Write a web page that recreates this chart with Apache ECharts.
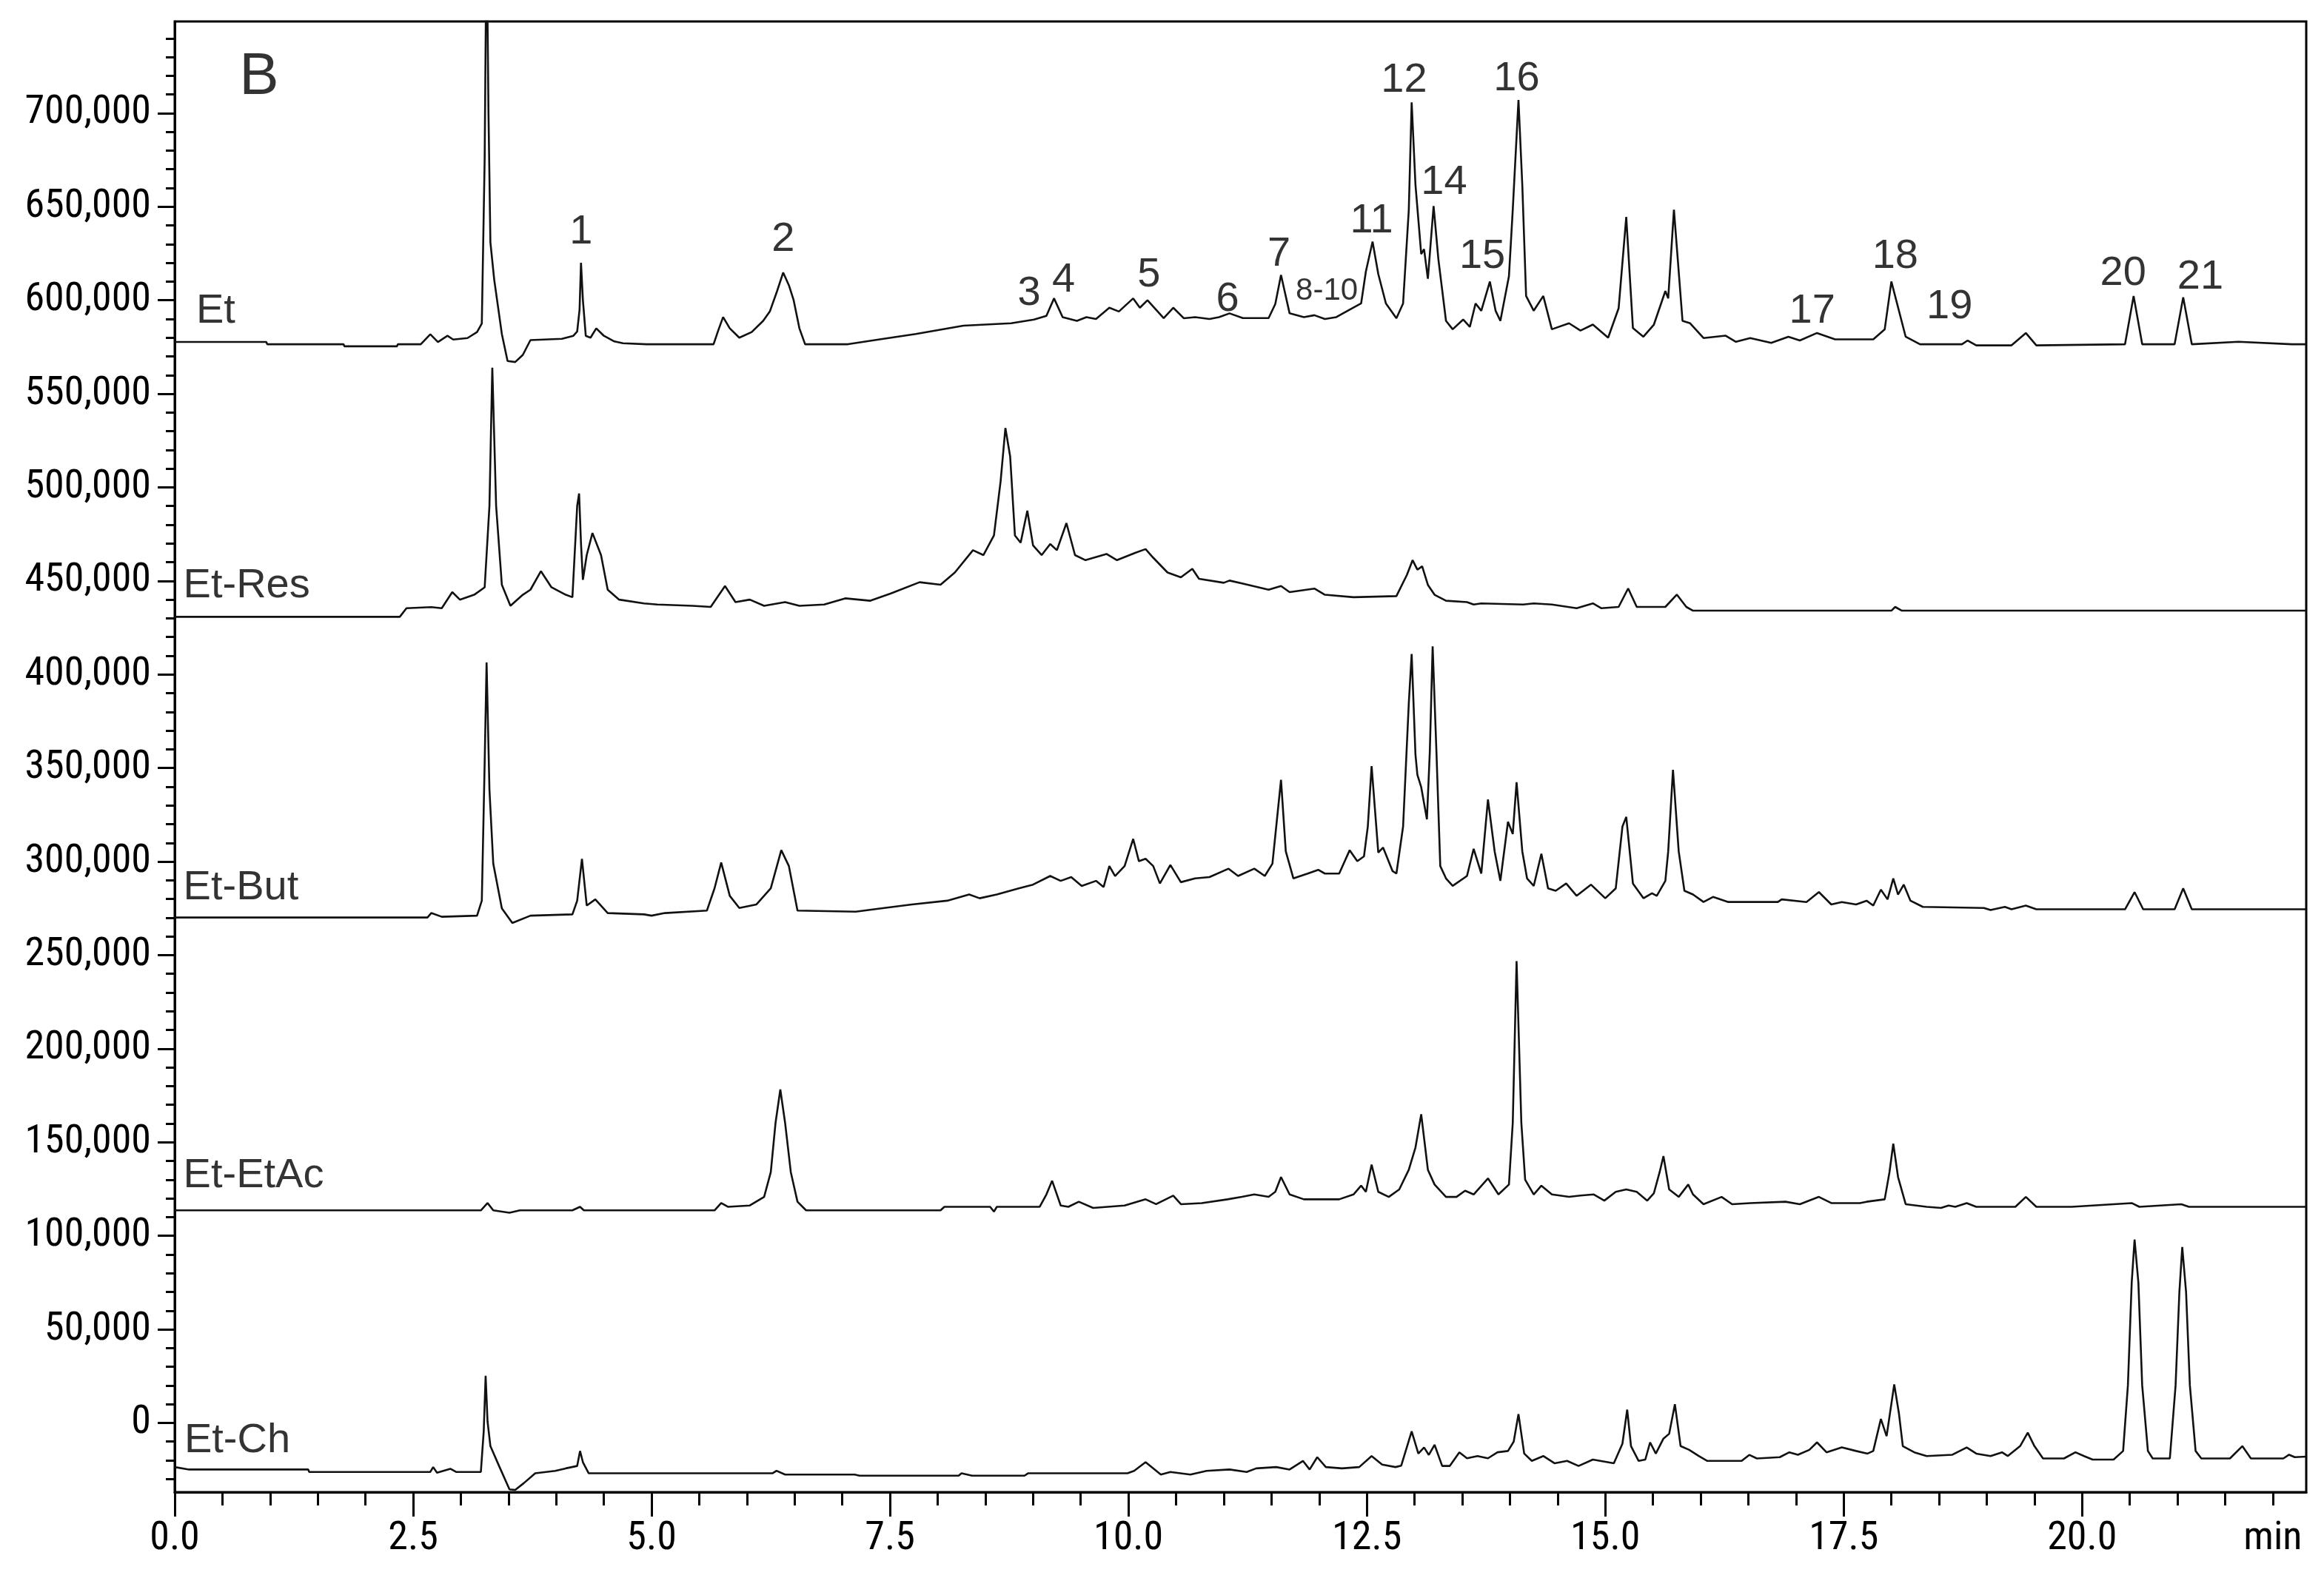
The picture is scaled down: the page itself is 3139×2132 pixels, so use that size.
<!DOCTYPE html>
<html>
<head>
<meta charset="utf-8">
<script src="https://cdn.jsdelivr.net/npm/echarts@6/dist/echarts.min.js"></script>
<style>
html,body{margin:0;padding:0;background:#fff;}
#chart{width:3139px;height:2132px;}
</style>
</head>
<body>
<div id="chart"></div>
<script>
// values in thousands of counts; time in minutes
const UNIT = 1000;
const traceEt = [[0,577.7],[0.96,577.7],[0.97,576.5],[1.77,576.5],[1.78,575.4],[2.33,575.4],[2.34,576.5],[2.58,576.5],[2.68,581.8],[2.76,577.7],[2.86,581],[2.92,579],[3.07,579.8],[3.17,583],[3.22,587.6],[3.25,676],[3.27,800],[3.29,700],[3.31,631],[3.35,611],[3.43,582],[3.49,567.5],[3.57,567],[3.65,570.8],[3.73,578.7],[4.06,579.4],[4.18,581],[4.22,583.3],[4.245,595],[4.26,620],[4.28,600],[4.31,581],[4.36,580],[4.42,585],[4.5,581],[4.61,578],[4.7,577],[4.95,576.5],[5.65,576.5],[5.7,584],[5.75,591],[5.82,585],[5.92,580],[6.05,583],[6.17,589],[6.24,594],[6.31,604],[6.38,614.8],[6.44,608],[6.49,600],[6.55,585],[6.61,576.5],[7.06,576.5],[7.38,579],[7.77,582],[8.27,586.4],[8.77,587.7],[9.01,589.7],[9.14,591.7],[9.22,601],[9.31,591],[9.46,589],[9.56,591],[9.66,590],[9.8,596],[9.9,594],[10.05,601],[10.12,596],[10.2,600],[10.37,590.4],[10.47,596],[10.58,590.4],[10.7,591],[10.85,590],[10.95,591],[11.06,593],[11.2,590.5],[11.47,590.5],[11.54,598],[11.6,613.5],[11.69,593],[11.84,591],[11.95,592],[12.06,590],[12.18,591],[12.32,595],[12.44,598.3],[12.49,615.4],[12.56,631.3],[12.62,614],[12.7,598.3],[12.81,590.4],[12.88,598.3],[12.94,648.4],[12.97,705.8],[13.01,661.6],[13.07,624.7],[13.1,627.3],[13.14,611.5],[13.2,650.4],[13.25,622],[13.33,589],[13.4,584.5],[13.51,589.7],[13.58,585.8],[13.64,598.3],[13.7,594.4],[13.79,610],[13.85,594.4],[13.9,589],[13.99,612.8],[14.03,648.4],[14.09,707],[14.13,661.6],[14.17,602.3],[14.25,594.4],[14.35,602.3],[14.44,584.5],[14.62,587.7],[14.74,583.8],[14.87,587],[15.03,580],[15.14,595.7],[15.22,644.5],[15.29,585.1],[15.4,580.5],[15.51,587],[15.63,604.9],[15.66,601],[15.72,648.4],[15.81,589],[15.89,587.7],[16.03,579.8],[16.26,581.1],[16.37,577.8],[16.52,579.8],[16.74,577.2],[16.92,580.5],[17.04,578.5],[17.22,582.5],[17.41,579.1],[17.81,579.1],[17.93,584.4],[18.0,610],[18.15,580.5],[18.3,576.5],[18.74,576.5],[18.8,578.5],[18.89,575.9],[19.26,575.9],[19.41,582.5],[19.52,575.9],[20.45,576.5],[20.54,602.3],[20.63,576.5],[20.97,576.5],[21.06,601.6],[21.15,576.5],[21.64,577.8],[22.2,576.5],[22.35,576.5]];

const traceEtRes = [[0,430.8],[2.36,430.8],[2.43,435.4],[2.69,436],[2.8,435.4],[2.91,444],[2.99,440],[3.14,442.6],[3.25,446.6],[3.3,490.1],[3.33,564],[3.37,490.1],[3.43,448],[3.52,436.7],[3.65,442.6],[3.73,445.3],[3.84,455.2],[3.95,446.6],[4.1,442.6],[4.17,441.3],[4.22,490.1],[4.24,496.7],[4.26,470],[4.28,450.6],[4.32,463.8],[4.38,475.6],[4.47,463.8],[4.54,445.3],[4.66,440],[4.92,438],[5.06,437.4],[5.43,436.7],[5.62,436.1],[5.77,447.3],[5.88,438.7],[6.03,440],[6.18,436.7],[6.4,438.7],[6.55,436.7],[6.81,437.4],[7.03,440.7],[7.29,439.4],[7.51,443.3],[7.81,449.3],[8.03,448],[8.18,454.5],[8.37,466.4],[8.48,463.8],[8.59,474.3],[8.66,503.3],[8.71,531.7],[8.76,516.5],[8.81,474.3],[8.87,470.4],[8.94,487.5],[9.0,469],[9.09,463.8],[9.18,469.7],[9.25,466.4],[9.35,480.9],[9.44,463.8],[9.55,461.1],[9.77,464.4],[9.88,461.1],[10.07,465],[10.18,467],[10.26,462.4],[10.41,454.5],[10.55,451.9],[10.67,456.5],[10.74,451.1],[11.0,449],[11.06,450.2],[11.2,448.6],[11.47,445.3],[11.6,447.3],[11.69,444],[11.95,445.9],[12.06,442.6],[12.36,441.3],[12.81,441.9],[12.92,453.2],[12.98,461.1],[13.03,456],[13.08,457.8],[13.14,447.9],[13.21,442.6],[13.33,439.4],[13.55,438.7],[13.62,437.4],[13.7,438],[14.14,437.4],[14.25,438],[14.44,437.4],[14.7,435.4],[14.87,438],[14.96,435.4],[15.14,436.1],[15.24,446],[15.33,436.1],[15.63,436.1],[15.75,442.7],[15.85,436.1],[15.92,434.1],[18.0,434.1],[18.04,436.1],[18.11,434.1],[22.35,434.1]];

const traceEtBut = [[0,270.1],[2.65,270.1],[2.69,272.5],[2.8,270.5],[3.17,271.1],[3.22,279.1],[3.25,353],[3.27,406.4],[3.3,338.5],[3.34,298.9],[3.43,275],[3.54,267.2],[3.73,271.1],[4.17,271.8],[4.22,279.1],[4.27,301.5],[4.32,276.5],[4.41,279.8],[4.54,272.5],[4.92,271.8],[5.0,271.1],[5.14,272.5],[5.58,273.8],[5.66,285.7],[5.73,299.5],[5.82,281.7],[5.92,275.2],[6.1,277.1],[6.25,285.7],[6.36,306.1],[6.44,297.6],[6.53,273.8],[7.14,273.2],[7.44,275.2],[7.73,277.1],[8.1,279.1],[8.33,282.4],[8.44,280.4],[8.62,282.4],[8.85,285.7],[9.0,287.7],[9.18,292.3],[9.29,289.7],[9.4,291.7],[9.51,287],[9.66,289.7],[9.74,286.4],[9.8,297.6],[9.86,292.3],[9.96,297.6],[10.05,312.1],[10.11,300.2],[10.18,301.5],[10.26,297.6],[10.33,288.3],[10.44,298.2],[10.55,289],[10.7,291],[10.85,291.7],[11.05,296.2],[11.15,292.3],[11.32,296.2],[11.43,292.3],[11.51,298.9],[11.6,343.7],[11.65,305.5],[11.73,291],[11.88,293.6],[11.99,295.6],[12.06,293.6],[12.21,293.6],[12.32,306.1],[12.4,300.2],[12.47,302.8],[12.51,318.7],[12.55,351],[12.62,304.8],[12.67,307.5],[12.77,294.9],[12.81,293.6],[12.88,318.7],[12.94,384.7],[12.97,411],[13.01,357],[13.03,346.4],[13.07,339.8],[13.13,322.6],[13.16,358.3],[13.19,415],[13.23,358.3],[13.27,297.6],[13.33,291],[13.4,287],[13.55,292.3],[13.62,306.8],[13.7,293.6],[13.77,333.2],[13.84,305.5],[13.9,289.7],[13.98,321.3],[14.03,314.7],[14.07,342.4],[14.13,305.5],[14.18,291],[14.25,287],[14.33,304.2],[14.4,285.7],[14.48,284.4],[14.59,288.3],[14.7,281.7],[14.85,287.7],[15.0,280.4],[15.11,285.7],[15.18,318.7],[15.22,323.9],[15.29,288.3],[15.4,280.4],[15.49,283.1],[15.54,281.7],[15.63,289.7],[15.66,305.5],[15.71,349],[15.77,305.5],[15.83,284.4],[15.92,282.4],[16.03,278.4],[16.13,281.1],[16.29,278.4],[16.81,278.4],[16.85,279.8],[17.11,278.4],[17.24,283.7],[17.37,277.1],[17.48,278.4],[17.63,277.1],[17.74,279.1],[17.81,276.5],[17.89,285],[17.96,279.8],[18.02,291],[18.07,282.4],[18.13,287.7],[18.2,279.1],[18.33,275.8],[18.97,275.2],[19.04,274.1],[19.19,275.8],[19.26,274.5],[19.41,276.5],[19.52,274.5],[20.45,274.5],[20.55,283.7],[20.64,274.5],[20.97,274.5],[21.06,285.7],[21.15,274.5],[22.35,274.5]];

const traceEtEtAc = [[0,113.6],[3.21,113.6],[3.28,117.5],[3.34,113.6],[3.51,112.3],[3.62,113.6],[4.17,113.6],[4.25,115.5],[4.29,113.6],[5.66,113.6],[5.73,117.5],[5.8,115.5],[6.03,116.2],[6.18,120.8],[6.25,134],[6.3,160.4],[6.35,178.2],[6.4,160.4],[6.46,134],[6.53,118.2],[6.62,113.6],[8.03,113.6],[8.07,115.5],[8.55,115.5],[8.59,112.9],[8.62,115.5],[9.07,115.5],[9.14,122.1],[9.2,129.4],[9.29,116.2],[9.37,115.5],[9.48,118.2],[9.63,114.9],[9.96,116.2],[10.18,119.5],[10.29,116.9],[10.47,121.5],[10.55,116.9],[10.77,117.5],[11.04,119.5],[11.19,120.8],[11.32,122.1],[11.47,120.8],[11.54,123.5],[11.6,131.4],[11.69,122.1],[11.84,119.5],[12.21,119.5],[12.36,122.1],[12.44,126.8],[12.49,123.5],[12.55,138],[12.62,123.5],[12.73,120.8],[12.84,124.8],[12.94,135.3],[13.01,147.2],[13.07,165],[13.14,135.3],[13.21,127.4],[13.33,120.8],[13.44,120.8],[13.53,124.1],[13.62,122.1],[13.77,130.7],[13.88,122.1],[13.99,127.4],[14.03,160.4],[14.07,246.8],[14.12,160.4],[14.16,130],[14.25,122.1],[14.33,126.8],[14.44,122.1],[14.62,120.8],[14.74,121.5],[14.88,122.1],[14.99,118.8],[15.11,123.5],[15.22,124.8],[15.33,123.5],[15.44,118.8],[15.51,122.8],[15.57,134],[15.61,142.6],[15.67,124.8],[15.77,120.8],[15.87,127.4],[15.92,122.1],[16.03,116.9],[16.22,120.8],[16.33,116.9],[16.52,117.5],[16.89,118.2],[17.04,116.9],[17.24,120.8],[17.37,117.5],[17.67,117.5],[17.74,118.2],[17.93,119.5],[17.98,134],[18.02,149.2],[18.07,131.4],[18.15,116.9],[18.37,115.5],[18.52,114.9],[18.6,116.2],[18.67,115.5],[18.79,117.5],[18.89,115.5],[19.3,115.5],[19.41,120.8],[19.52,115.5],[19.89,115.5],[20.52,117.5],[20.6,115.5],[21.04,116.9],[21.12,115.5],[22.35,115.5]];

const traceEtCh = [[0,-23.6],[0.15,-24.9],[1.4,-24.9],[1.41,-26.2],[2.68,-26.2],[2.71,-23.6],[2.75,-26.6],[2.89,-24.5],[2.95,-26.2],[3.21,-26.2],[3.24,-4.5],[3.26,25.2],[3.28,0.8],[3.31,-12.4],[3.4,-22.9],[3.51,-35.5],[3.57,-35.8],[3.66,-32.2],[3.78,-26.9],[3.99,-25.6],[4.1,-24.3],[4.22,-23],[4.25,-15],[4.28,-21],[4.34,-26.9],[6.27,-26.9],[6.31,-25.6],[6.4,-27.6],[7.13,-27.6],[7.18,-28.2],[8.22,-28.2],[8.25,-26.9],[8.36,-28.2],[8.91,-28.2],[8.95,-26.9],[9.99,-26.9],[10.06,-25.6],[10.18,-21],[10.34,-27.6],[10.44,-26.2],[10.65,-27.6],[10.82,-25.6],[11.06,-24.9],[11.24,-26.2],[11.34,-24.3],[11.55,-23.6],[11.69,-24.9],[11.83,-20.3],[11.9,-24.9],[11.98,-18.3],[12.07,-23.6],[12.24,-24.3],[12.42,-23.6],[12.55,-17.7],[12.66,-22.3],[12.8,-23.6],[12.86,-22.9],[12.97,-4.5],[13.04,-16.4],[13.1,-13.1],[13.15,-17.1],[13.21,-11.7],[13.29,-23],[13.37,-23],[13.47,-15.7],[13.55,-18.9],[13.66,-17.7],[13.77,-18.9],[13.87,-15.7],[13.98,-15],[14.04,-10],[14.09,4.7],[14.15,-16.4],[14.23,-20.3],[14.35,-17.7],[14.47,-21.6],[14.6,-20.3],[14.72,-23],[14.87,-19.6],[15.09,-21.6],[15.18,-11.1],[15.23,7.1],[15.27,-12.4],[15.35,-20.3],[15.42,-19.6],[15.47,-10.4],[15.53,-16.4],[15.61,-8.4],[15.67,-5.8],[15.73,10],[15.79,-12.4],[15.88,-14.4],[15.98,-17.7],[16.07,-20.3],[16.43,-20.3],[16.51,-17.1],[16.59,-19],[16.83,-18.3],[16.93,-15.7],[17.02,-17],[17.14,-14.4],[17.22,-10.4],[17.32,-15.7],[17.48,-13.1],[17.63,-15],[17.75,-16.4],[17.81,-15],[17.89,2.1],[17.95,-7.1],[18.03,20.6],[18.08,4.8],[18.12,-12.4],[18.24,-15.7],[18.37,-17.7],[18.64,-17],[18.79,-13.1],[18.89,-16.4],[19.04,-17.7],[19.16,-15.7],[19.22,-17.7],[19.35,-12.4],[19.43,-5.2],[19.5,-12.4],[19.59,-19],[19.81,-19],[19.93,-15.7],[20.02,-17.7],[20.11,-19.6],[20.33,-19.6],[20.43,-15],[20.48,20],[20.52,75],[20.55,98],[20.59,75],[20.63,20],[20.69,-15],[20.74,-19],[20.92,-19],[20.98,20],[21.02,70],[21.05,94],[21.09,70],[21.13,20],[21.19,-15],[21.25,-19],[21.55,-19],[21.68,-12.4],[21.77,-19],[22.11,-19],[22.17,-17],[22.23,-18.3],[22.35,-18]];

// peak number annotations: [time, value(k), text]
const peakLabels = [[4.26,636.6,'1'],[6.38,632.6,'2'],[8.96,603.6,'3'],[9.32,610.8,'4'],[10.215,613.5,'5'],[11.04,600.3,'6'],[11.58,624.7,'7'],[12.55,642.5,'11'],[12.89,717.7,'12'],[13.31,662.9,'14'],[13.71,623.4,'15'],[14.07,718.3,'16'],[17.17,594.3,'17'],[18.04,623.4,'18'],[18.61,596.3,'19'],[20.43,614.1,'20'],[21.24,612.2,'21']];
const smallPeakLabels = [[12.08,604.9,'8-10']];
// trace name annotations: [time, value(k), text]
const traceNames = [[0.225,594,'Et'],[0.09,447.3,'Et-Res'],[0.09,286,'Et-But'],[0.09,132,'Et-EtAc'],[0.1,-9.4,'Et-Ch']];
const panelLetter = [[0.885,719,'B']];

const xMajorTicks = [0,2.5,5,7.5,10,12.5,15,17.5,20];
const xMinorTicks = [0,0.5,1,1.5,2,2.5,3,3.5,4,4.5,5,5.5,6,6.5,7,7.5,8,8.5,9,9.5,10,10.5,11,11.5,12,12.5,13,13.5,14,14.5,15,15.5,16,16.5,17,17.5,18,18.5,19,19.5,20,20.5,21,21.5,22];
const xLabelValues = [0,2.5,5,7.5,10,12.5,15,17.5,20,22];
const yMajorTicks = [0,50000,100000,150000,200000,250000,300000,350000,400000,450000,500000,550000,600000,650000,700000];
const yMinorTicks = [-30000,-20000,-10000,0,10000,20000,30000,40000,50000,60000,70000,80000,90000,100000,110000,120000,130000,140000,150000,160000,170000,180000,190000,200000,210000,220000,230000,240000,250000,260000,270000,280000,290000,300000,310000,320000,330000,340000,350000,360000,370000,380000,390000,400000,410000,420000,430000,440000,450000,460000,470000,480000,490000,500000,510000,520000,530000,540000,550000,560000,570000,580000,590000,600000,610000,620000,630000,640000,650000,660000,670000,680000,690000,700000,710000,720000,730000,740000];

const X_MIN = 0, X_MAX = 22.35, Y_MIN = -37000, Y_MAX = 749000;

const toSeries = arr => arr.map(p => [p[0], p[1] * UNIT]);
const toText = arr => arr.map(p => ({ value: [p[0], p[1] * UNIT], name: p[2] }));

const tickFont = '"Liberation Sans Narrow", "Arial Narrow", "Roboto Condensed", "Liberation Sans", sans-serif';
const textFont = '"Liberation Sans", Arial, sans-serif';

const lineSeries = (name, arr) => ({
  name, type: 'line', data: toSeries(arr), showSymbol: false, symbol: 'none',
  lineStyle: { color: '#111', width: 2.6 }, clip: true, z: 3, silent: true
});
const textSeries = (data, fontSize, pos) => ({
  type: 'scatter', data: toText(data), symbolSize: 0, silent: true, z: 5, clip: false,
  label: { show: true, position: pos, distance: 0, formatter: p => p.name, color: '#000', fontFamily: textFont, fontSize: fontSize,
    align: pos === 'right' ? 'left' : 'center', verticalAlign: 'middle' }
});

const chart = echarts.init(document.getElementById('chart'), null, { renderer: 'canvas' });
chart.setOption({
  animation: false,
  backgroundColor: '#fff',
  grid: { left: 236, right: 24, top: 29, bottom: 116, show: true, borderColor: '#000', borderWidth: 3, containLabel: false },
  xAxis: [
    { type: 'value', min: X_MIN, max: X_MAX, position: 'bottom',
      axisLine: { show: true, onZero: false, lineStyle: { color: '#000', width: 3 } },
      axisTick: { show: true, inside: false, length: 33, customValues: xMajorTicks, lineStyle: { color: '#000', width: 3 } },
      axisLabel: { show: true, customValues: xLabelValues, margin: 36, color: '#000', fontFamily: tickFont, fontSize: 54,
        formatter: v => (v === 22 ? 'min' : v.toFixed(1)) },
      splitLine: { show: false } },
    { type: 'value', min: X_MIN, max: X_MAX, position: 'bottom',
      axisLine: { show: false, onZero: false },
      axisTick: { show: true, inside: false, length: 18, customValues: xMinorTicks, lineStyle: { color: '#000', width: 3 } },
      axisLabel: { show: false }, splitLine: { show: false } }
  ],
  yAxis: [
    { type: 'value', min: Y_MIN, max: Y_MAX, position: 'left',
      axisLine: { show: true, onZero: false, lineStyle: { color: '#000', width: 3 } },
      axisTick: { show: true, inside: false, length: 23, customValues: yMajorTicks, lineStyle: { color: '#000', width: 3 } },
      axisLabel: { show: true, customValues: yMajorTicks, margin: 32, color: '#000', fontFamily: tickFont, fontSize: 54,
        formatter: v => v.toLocaleString('en-US') },
      splitLine: { show: false } },
    { type: 'value', min: Y_MIN, max: Y_MAX, position: 'left',
      axisLine: { show: false, onZero: false },
      axisTick: { show: true, inside: false, length: 12, customValues: yMinorTicks, lineStyle: { color: '#000', width: 3 } },
      axisLabel: { show: false }, splitLine: { show: false } }
  ],
  series: [
    lineSeries('Et', traceEt),
    lineSeries('Et-Res', traceEtRes),
    lineSeries('Et-But', traceEtBut),
    lineSeries('Et-EtAc', traceEtEtAc),
    lineSeries('Et-Ch', traceEtCh),
    textSeries(peakLabels, 56, 'inside'),
    textSeries(smallPeakLabels, 42, 'inside'),
    textSeries(traceNames, 56, 'right'),
    textSeries(panelLetter, 80, 'inside')
  ]
});
</script>
</body>
</html>
